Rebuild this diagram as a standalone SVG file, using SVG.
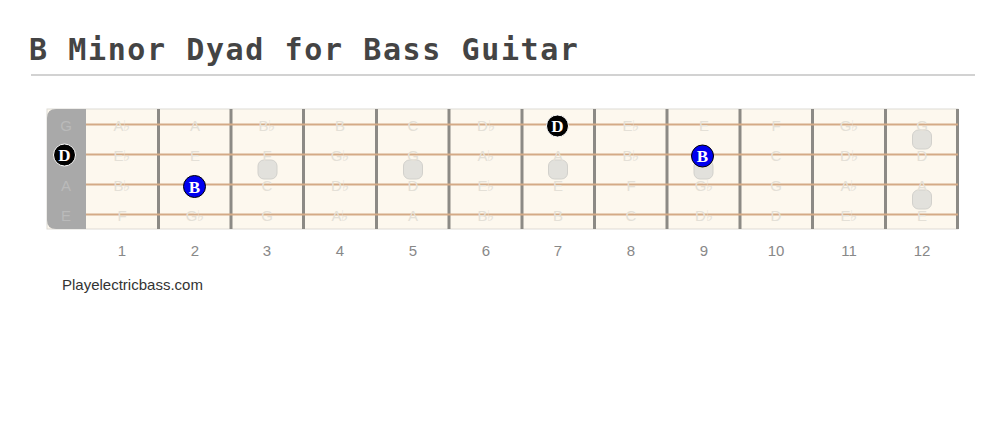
<svg xmlns="http://www.w3.org/2000/svg" width="1005" height="428" viewBox="0 0 1005 428">
<style>
.title{font-family:"DejaVu Sans Mono",monospace;font-weight:bold;font-size:30px;fill:#444;letter-spacing:1.6px}
.note{font-family:"Liberation Sans",Arial,sans-serif;font-size:15px;fill:#e4e0d7;text-anchor:middle}
.open{font-family:"Liberation Sans",Arial,sans-serif;font-size:15px;fill:#bababa;text-anchor:middle}
.fnum{font-family:"Liberation Sans",Arial,sans-serif;font-size:15px;fill:#888;text-anchor:middle}
.credit{font-family:"Liberation Sans",Arial,sans-serif;font-size:15px;fill:#333}
.fret{stroke:#8c8a85;stroke-width:3}
.string{stroke:#d4aa86;stroke-width:2}
.inlay{fill:#e2e1dc;stroke:#d2d1cc;stroke-width:1}
.mk{font-family:"Liberation Serif","Times New Roman",serif;font-weight:bold;font-size:17px;fill:#fff;text-anchor:middle}
</style>
<rect width="1005" height="428" fill="#fff"/>
<text class="title" x="29" y="60">B Minor Dyad for Bass Guitar</text>
<line x1="31" y1="75" x2="975" y2="75" stroke="#d2d2d2" stroke-width="2"/>
<g id="fretboard">
<rect x="47" y="109" width="911" height="120" fill="#fdf8ee" stroke="#dedbd5" stroke-width="1"/>
<path d="M86 109 H56 Q47 109 47 118 V220 Q47 229 56 229 H86 Z" fill="#a9a9a9"/>
</g>
<g id="inlays">
<rect class="inlay" x="258" y="160" width="19" height="19" rx="6"/>
<rect class="inlay" x="403.5" y="160" width="19" height="19" rx="6"/>
<rect class="inlay" x="548.5" y="160" width="19" height="19" rx="6"/>
<rect class="inlay" x="694" y="160" width="19" height="19" rx="6"/>
<rect class="inlay" x="912.5" y="130" width="19" height="19" rx="6"/>
<rect class="inlay" x="912.5" y="190" width="19" height="19" rx="6"/>
</g>
<g id="frets">
<line class="fret" x1="158.5" y1="109" x2="158.5" y2="229"/>
<line class="fret" x1="231" y1="109" x2="231" y2="229"/>
<line class="fret" x1="303.5" y1="109" x2="303.5" y2="229"/>
<line class="fret" x1="376.5" y1="109" x2="376.5" y2="229"/>
<line class="fret" x1="449" y1="109" x2="449" y2="229"/>
<line class="fret" x1="522" y1="109" x2="522" y2="229"/>
<line class="fret" x1="594.5" y1="109" x2="594.5" y2="229"/>
<line class="fret" x1="667" y1="109" x2="667" y2="229"/>
<line class="fret" x1="740" y1="109" x2="740" y2="229"/>
<line class="fret" x1="812.5" y1="109" x2="812.5" y2="229"/>
<line class="fret" x1="885.5" y1="109" x2="885.5" y2="229"/>
<line class="fret" x1="957.5" y1="109" x2="957.5" y2="229"/>
</g>
<g id="strings">
<line class="string" x1="86" y1="124.5" x2="958" y2="124.5"/>
<line class="string" x1="86" y1="154.5" x2="958" y2="154.5"/>
<line class="string" x1="86" y1="184.5" x2="958" y2="184.5"/>
<line class="string" x1="86" y1="214.5" x2="958" y2="214.5"/>
</g>
<g id="open-labels">
<text class="open" x="66" y="131">G</text>
<text class="open" x="66" y="191">A</text>
<text class="open" x="66" y="221">E</text>
</g>
<g id="note-labels">
<text class="note" x="122" y="131">A♭</text><text class="note" x="195" y="131">A</text><text class="note" x="267" y="131">B♭</text><text class="note" x="340" y="131">B</text><text class="note" x="413" y="131">C</text><text class="note" x="486" y="131">D♭</text><text class="note" x="631" y="131">E♭</text><text class="note" x="704" y="131">E</text><text class="note" x="776" y="131">F</text><text class="note" x="849" y="131">G♭</text><text class="note" x="922" y="131">G</text>
<text class="note" x="122" y="161">E♭</text><text class="note" x="195" y="161">E</text><text class="note" x="267" y="161">F</text><text class="note" x="340" y="161">G♭</text><text class="note" x="413" y="161">G</text><text class="note" x="486" y="161">A♭</text><text class="note" x="558" y="161">A</text><text class="note" x="631" y="161">B♭</text><text class="note" x="776" y="161">C</text><text class="note" x="849" y="161">D♭</text><text class="note" x="922" y="161">D</text>
<text class="note" x="122" y="191">B♭</text><text class="note" x="267" y="191">C</text><text class="note" x="340" y="191">D♭</text><text class="note" x="413" y="191">D</text><text class="note" x="486" y="191">E♭</text><text class="note" x="558" y="191">E</text><text class="note" x="631" y="191">F</text><text class="note" x="704" y="191">G♭</text><text class="note" x="776" y="191">G</text><text class="note" x="849" y="191">A♭</text><text class="note" x="922" y="191">A</text>
<text class="note" x="122" y="221">F</text><text class="note" x="195" y="221">G♭</text><text class="note" x="267" y="221">G</text><text class="note" x="340" y="221">A♭</text><text class="note" x="413" y="221">A</text><text class="note" x="486" y="221">B♭</text><text class="note" x="558" y="221">B</text><text class="note" x="631" y="221">C</text><text class="note" x="704" y="221">D♭</text><text class="note" x="776" y="221">D</text><text class="note" x="849" y="221">E♭</text><text class="note" x="922" y="221">E</text>
</g>
<g id="marker-D-open">
<circle cx="64.5" cy="155" r="11" fill="#000" stroke="#fff" stroke-width="1"/>
<text class="mk" x="64.5" y="161">D</text>
</g>
<g id="marker-D-7">
<circle cx="557.5" cy="126" r="11" fill="#000" stroke="#fff" stroke-width="1"/>
<text class="mk" x="557.5" y="132">D</text>
</g>
<g id="marker-B-2">
<circle cx="194.5" cy="186.5" r="11" fill="#0000ee" stroke="#000" stroke-width="1"/>
<text class="mk" x="194.5" y="192.5">B</text>
</g>
<g id="marker-B-9">
<circle cx="702.5" cy="156" r="11" fill="#0000ee" stroke="#000" stroke-width="1"/>
<text class="mk" x="702.5" y="162">B</text>
</g>
<g id="fret-numbers">
<text class="fnum" x="122" y="256">1</text><text class="fnum" x="195" y="256">2</text><text class="fnum" x="267" y="256">3</text><text class="fnum" x="340" y="256">4</text><text class="fnum" x="413" y="256">5</text><text class="fnum" x="486" y="256">6</text><text class="fnum" x="558" y="256">7</text><text class="fnum" x="631" y="256">8</text><text class="fnum" x="704" y="256">9</text><text class="fnum" x="776" y="256">10</text><text class="fnum" x="849" y="256">11</text><text class="fnum" x="922" y="256">12</text>
</g>
<text class="credit" x="62" y="290">Playelectricbass.com</text>
</svg>
